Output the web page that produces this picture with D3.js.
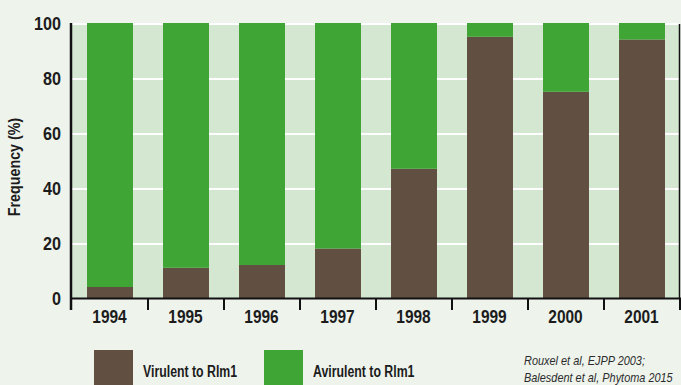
<!DOCTYPE html>
<html>
<head>
<meta charset="utf-8">
<script src="https://cdn.jsdelivr.net/npm/d3@7"></script>
<style>
  html, body { margin: 0; padding: 0; background: #eef3ec; }
  svg { display: block; }
  .lbl { font-family: "Liberation Sans", Arial, sans-serif; font-weight: bold; fill: #1c1c1c; }
  .cite { font-family: "Liberation Sans", Arial, sans-serif; font-style: italic; fill: #2b2b2b; }
</style>
</head>
<body>
<svg id="chart" width="681" height="385"></svg>
<script>
// Years sampled and share of isolates (%) in each group
const years = ["1994", "1995", "1996", "1997", "1998", "1999", "2000", "2001"];
const virulent = [4, 11, 12, 18, 47, 95, 75, 94];
const avirulent = [96, 89, 88, 82, 53, 5, 25, 6];
const yTicks = [0, 20, 40, 60, 80, 100];
const seriesNames = ["Virulent to Rlm1", "Avirulent to Rlm1"];
const seriesColors = ["#614f41", "#3fa535"];
const citation = ["Rouxel et al, EJPP 2003;", "Balesdent et al, Phytoma 2015"];

const svg = d3.select("#chart");
const W = 681, H = 385;
svg.append("rect").attr("width", W).attr("height", H).attr("fill", "#eef3ec");

const plotL = 72, plotR = 680, plotT = 23, plotB = 298;

const x = d3.scaleBand().domain(years).range([plotL, plotR])
  .paddingInner(0.395).paddingOuter(0.1975);
const y = d3.scaleLinear().domain([0, 100]).range([plotB, plotT]);

// condensed-looking text: horizontal squeeze applied after positioning
function squeeze(sel, sx) {
  sel.attr("transform", function (d, i) {
    const px = +this.getAttribute("data-x"), py = +this.getAttribute("data-y");
    return `translate(${px},${py}) scale(${sx},1)`;
  });
}

// plot background
svg.append("rect")
  .attr("x", plotL).attr("y", y(100))
  .attr("width", plotR - plotL - 1).attr("height", y(0) - y(100))
  .attr("fill", "#d4e7d0");

// horizontal gridlines
svg.append("g").selectAll("line").data(yTicks.filter(d => d > 0)).join("line")
  .attr("x1", plotL).attr("x2", plotR - 1)
  .attr("y1", d => y(d) + 1).attr("y2", d => y(d) + 1)
  .attr("stroke", "#ffffff").attr("stroke-width", 2);

// stacked bars
const rows = years.map((yr, i) => ({ year: yr, v: virulent[i], a: avirulent[i] }));
const layers = d3.stack().keys(["v", "a"])(rows);
svg.append("g").selectAll("g").data(layers).join("g")
  .attr("fill", (d, i) => seriesColors[i])
  .selectAll("rect").data(d => d).join("rect")
  .attr("x", d => x(d.data.year))
  .attr("width", x.bandwidth())
  .attr("y", d => y(d[1]))
  .attr("height", d => y(d[0]) - y(d[1]));

// x axis with ticks at band boundaries
const xAxis = svg.append("g");
xAxis.append("line")
  .attr("x1", plotL - 2).attr("x2", plotR + 1)
  .attr("y1", plotB + 0.5).attr("y2", plotB + 0.5)
  .attr("stroke", "#111").attr("stroke-width", 2);
const bounds = years.map((d, i) => plotL + (i + 1) * x.step());
xAxis.selectAll(".tk").data(bounds).join("line")
  .attr("class", "tk")
  .attr("x1", d => d).attr("x2", d => d)
  .attr("y1", plotB).attr("y2", plotB + 12)
  .attr("stroke", "#111").attr("stroke-width", 2);
xAxis.selectAll("text").data(years).join("text")
  .attr("class", "lbl")
  .attr("data-x", d => x(d) + x.bandwidth() / 2 - 0.5)
  .attr("data-y", 322.5)
  .attr("text-anchor", "middle")
  .attr("font-size", 18)
  .text(d => d)
  .call(squeeze, 0.86);

// y axis
const yAxis = svg.append("g");
yAxis.append("line")
  .attr("x1", plotL - 1).attr("x2", plotL - 1)
  .attr("y1", y(100)).attr("y2", plotB + 12)
  .attr("stroke", "#111").attr("stroke-width", 2.5);
yAxis.selectAll("text").data(yTicks).join("text")
  .attr("class", "lbl")
  .attr("data-x", 61)
  .attr("data-y", d => y(d) + 1)
  .attr("dy", "0.36em")
  .attr("text-anchor", "end")
  .attr("font-size", 18)
  .text(d => d)
  .call(squeeze, 0.9);

// right frame edge
svg.append("line")
  .attr("x1", plotR - 0.5).attr("x2", plotR - 0.5)
  .attr("y1", y(100) + 1).attr("y2", plotB)
  .attr("stroke", "#111").attr("stroke-width", 1.5);

// y title
svg.append("text")
  .attr("class", "lbl")
  .attr("transform", "translate(20,167) rotate(-90) scale(0.84,1)")
  .attr("text-anchor", "middle")
  .attr("font-size", 17)
  .text("Frequency (%)");

// legend
const legX = [94, 264];
const leg = svg.append("g").selectAll("g").data(seriesNames).join("g")
  .attr("transform", (d, i) => `translate(${legX[i]},350)`);
leg.append("rect").attr("width", 39).attr("height", 39)
  .attr("fill", (d, i) => seriesColors[i]);
leg.append("text").attr("class", "lbl")
  .attr("data-x", 49).attr("data-y", 26.7)
  .attr("font-size", 16)
  .text(d => d)
  .call(squeeze, 0.77);

// source note
svg.append("g").selectAll("text").data(citation).join("text")
  .attr("class", "cite")
  .attr("data-x", 524)
  .attr("data-y", (d, i) => 365 + i * 16.5)
  .attr("font-size", 12)
  .text(d => d)
  .call(squeeze, 0.91);
</script>
</body>
</html>
